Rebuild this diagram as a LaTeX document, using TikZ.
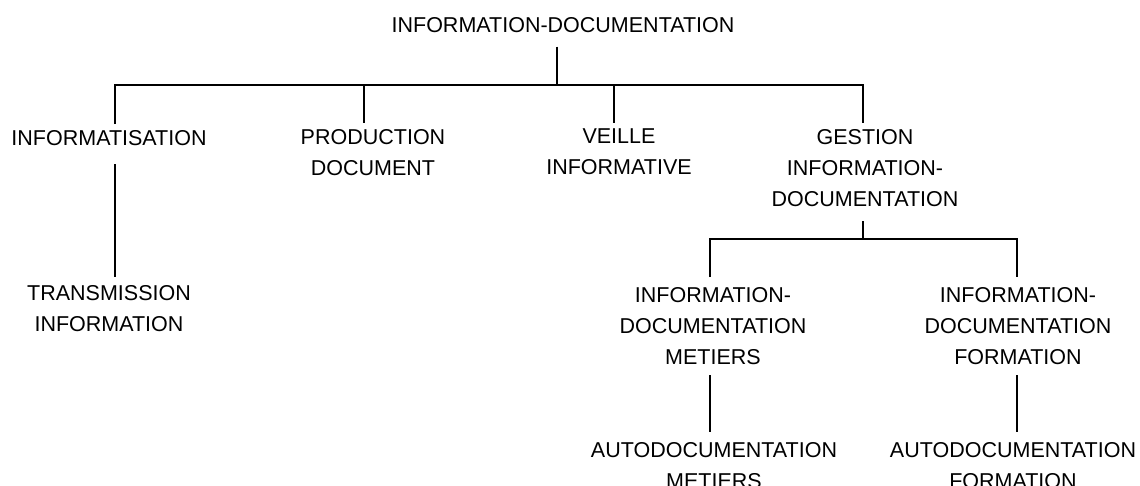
\documentclass[tikz,border=0pt]{standalone}
\usepackage{fontspec}
\setmainfont{Liberation Sans}
\begin{document}
\begin{tikzpicture}[x=1pt,y=-1pt,
  lbl/.style={inner sep=0pt, outer sep=0pt, anchor=north, align=center,
              font=\fontsize{21.5}{31}\selectfont},
  link/.style={line width=2.7pt, line cap=butt, line join=miter}]
\useasboundingbox (0,0) rectangle (1140,485);
\clip (0,0) rectangle (1140,485);

% labels
\node[lbl] (root)   at (563,17)  {INFORMATION-DOCUMENTATION};
\node[lbl] (info)   at (109,130) {INFORMATISATION};
\node[lbl] (prod)   at (373,129) {PRODUCTION\\DOCUMENT};
\node[lbl] (veille) at (619,129) {VEILLE\\INFORMATIVE};
\node[lbl] (gest)   at (865,129) {GESTION\\INFORMATION-\\DOCUMENTATION};
\node[lbl] (trans)  at (109,285) {TRANSMISSION\\INFORMATION};
\node[lbl] (idm)    at (713,287) {INFORMATION-\\DOCUMENTATION\\METIERS};
\node[lbl] (idf)    at (1018,287) {INFORMATION-\\DOCUMENTATION\\FORMATION};
\node[lbl] (adm)    at (714,442) {AUTODOCUMENTATION\\METIERS};
\node[lbl] (adf)    at (1013,442) {AUTODOCUMENTATION\\FORMATION};

% junction points on the two horizontal bars
\coordinate (j0) at (557,85);
\coordinate (k1) at (115,85);
\coordinate (k2) at (364,85);
\coordinate (k3) at (614,85);
\coordinate (k4) at (863,85);
\coordinate (m0) at (863,239);
\coordinate (m1) at (710,239);
\coordinate (m2) at (1017,239);

% first level
\draw[link] ([yshift=-14.5pt]root.south -| j0) -- (j0);
\draw[link] ([yshift=6pt]info.north -| k1) -- (k1) -- (k4) -- ([yshift=6pt]gest.north -| k4);
\draw[link] (k2) -- ([yshift=6pt]prod.north -| k2);
\draw[link] (k3) -- ([yshift=6pt]veille.north -| k3);
\draw[link] ([yshift=-19pt]info.south -| k1) -- ([yshift=8pt]trans.north -| k1);

% second level
\draw[link] ([yshift=-15pt]gest.south -| m0) -- (m0);
\draw[link] ([yshift=10pt]idm.north -| m1) -- (m1) -- (m2) -- ([yshift=10pt]idf.north -| m2);
\draw[link] ([yshift=-11pt]idm.south -| m1) -- ([yshift=10pt]adm.north -| m1);
\draw[link] ([yshift=-11pt]idf.south -| m2) -- ([yshift=10pt]adf.north -| m2);
\end{tikzpicture}
\end{document}
